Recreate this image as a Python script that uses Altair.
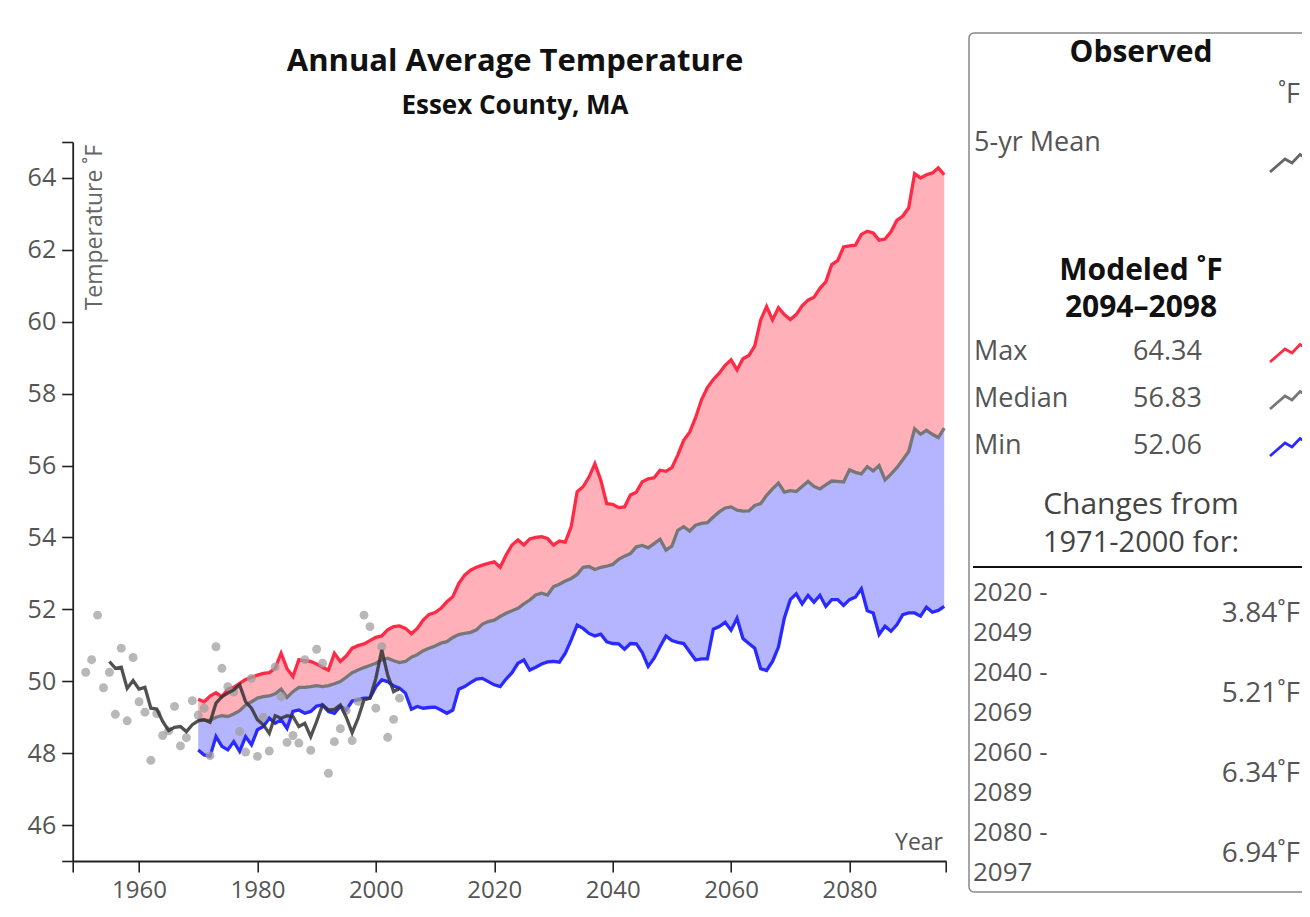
import altair as alt
import pandas as pd

# ---------------- data ----------------
obs_years = list(range(1951, 2005))
obs_temp = [50.25, 50.6, 51.84, 49.82, 50.25, 49.08, 50.92, 48.9, 50.66, 49.43,
            49.14, 47.8, 49.1, 48.49, 48.62, 49.3, 48.2, 48.43, 49.46, 49.06,
            49.25, 47.93, 50.96, 50.36, 49.85, 49.7, 48.6, 48.03, 50.08, 47.91,
            49.0, 48.06, 50.4, 49.57, 48.3, 48.49, 48.28, 50.6, 48.08, 50.89,
            50.5, 47.44, 48.32, 48.68, 49.19, 48.35, 49.44, 51.84, 51.52, 49.25,
            50.96, 48.44, 48.94, 49.53]

mean_years = list(range(1955, 2005))
mean_temp = [50.55, 50.36, 50.39, 49.80, 50.02, 49.78, 49.83, 49.25, 49.23, 48.88,
             48.63, 48.72, 48.74, 48.60, 48.79, 48.90, 48.93, 48.86, 49.39, 49.57,
             49.67, 49.76, 49.90, 49.43, 49.25, 48.93, 48.79, 48.55, 49.04, 48.97,
             49.04, 49.02, 48.74, 48.83, 48.46, 48.88, 49.34, 49.20, 49.22, 49.34,
             49.00, 48.57, 48.97, 49.48, 49.53, 50.08, 50.87, 50.17, 49.71, 49.80]

model_years = list(range(1970, 2097))
model_max = [49.5, 49.43, 49.59, 49.68, 49.57, 49.78, 49.83, 49.94, 50.05, 50.11,
             50.17, 50.22, 50.24, 50.36, 50.78, 50.35, 50.13, 50.6, 50.57, 50.55,
             50.48, 50.39, 50.31, 50.78, 50.55, 50.70, 50.92, 50.99, 51.04, 51.13,
             51.22, 51.26, 51.43, 51.52, 51.54, 51.47, 51.32, 51.47, 51.70, 51.86,
             51.91, 52.03, 52.21, 52.35, 52.72, 52.95, 53.09, 53.17, 53.23, 53.28,
             53.32, 53.17, 53.51, 53.79, 53.93, 53.79, 53.96, 54.0, 54.02, 53.97,
             53.79, 53.9, 53.87, 54.3, 55.27, 55.41, 55.68, 56.05, 55.59, 54.94,
             54.92, 54.83, 54.85, 55.18, 55.26, 55.55, 55.63, 55.66, 55.87, 55.84,
             55.94, 56.29, 56.70, 56.93, 57.33, 57.83, 58.17, 58.39, 58.57, 58.79,
             58.94, 58.66, 58.97, 59.06, 59.33, 60.05, 60.42, 60.05, 60.39, 60.2,
             60.06, 60.2, 60.44, 60.6, 60.68, 60.93, 61.11, 61.59, 61.70, 62.08,
             62.11, 62.13, 62.43, 62.52, 62.47, 62.27, 62.30, 62.5, 62.82, 62.94,
             63.17, 64.12, 64.0, 64.09, 64.14, 64.28, 64.09]
model_median = [48.94, 48.92, 48.91, 49.0, 49.04, 49.02, 49.09, 49.18, 49.34, 49.43,
                49.53, 49.57, 49.59, 49.65, 49.78, 49.55, 49.71, 49.83, 49.83, 49.85,
                49.88, 49.85, 49.88, 49.93, 49.99, 50.11, 50.24, 50.31, 50.38, 50.44,
                50.50, 50.59, 50.64, 50.57, 50.52, 50.55, 50.67, 50.74, 50.85, 50.92,
                50.98, 51.06, 51.10, 51.22, 51.30, 51.33, 51.36, 51.43, 51.59, 51.66,
                51.70, 51.80, 51.89, 51.96, 52.03, 52.15, 52.26, 52.40, 52.45, 52.40,
                52.63, 52.70, 52.79, 52.86, 52.97, 53.17, 53.19, 53.11, 53.17, 53.2,
                53.25, 53.39, 53.48, 53.55, 53.74, 53.78, 53.71, 53.83, 53.95, 53.65,
                53.76, 54.2, 54.3, 54.18, 54.34, 54.39, 54.41, 54.57, 54.71, 54.82,
                54.85, 54.76, 54.73, 54.74, 54.89, 54.94, 55.17, 55.35, 55.51, 55.26,
                55.3, 55.28, 55.42, 55.56, 55.42, 55.35, 55.46, 55.57, 55.56, 55.54,
                55.88, 55.81, 55.77, 55.97, 55.85, 56.0, 55.6, 55.76, 55.94, 56.16,
                56.39, 57.02, 56.87, 56.98, 56.87, 56.78, 57.04]
model_min = [48.09, 47.95, 47.91, 48.46, 48.19, 48.09, 48.32, 48.05, 48.46, 48.23,
             48.65, 48.74, 48.97, 48.83, 48.93, 48.69, 49.16, 49.2, 49.11, 49.16,
             49.31, 49.34, 49.16, 49.11, 49.3, 49.2, 49.45, 49.48, 49.53, 49.53,
             49.85, 50.04, 49.99, 49.87, 49.81, 49.67, 49.22, 49.3, 49.25, 49.27,
             49.28, 49.2, 49.11, 49.2, 49.78, 49.85, 49.96, 50.06, 50.08, 49.99,
             49.9, 49.85, 50.06, 50.24, 50.5, 50.59, 50.31, 50.39, 50.48, 50.54,
             50.55, 50.53, 50.78, 51.15, 51.56, 51.47, 51.33, 51.26, 51.31, 51.1,
             51.05, 51.04, 50.89, 51.05, 51.04, 50.8, 50.41, 50.64, 50.96, 51.26,
             51.13, 51.08, 51.05, 50.82, 50.59, 50.62, 50.62, 51.45, 51.52, 51.64,
             51.42, 51.75, 51.19, 51.05, 50.92, 50.35, 50.3, 50.55, 50.95, 51.76,
             52.27, 52.43, 52.15, 52.39, 52.2, 52.39, 52.08, 52.27, 52.27, 52.11,
             52.27, 52.34, 52.57, 51.96, 51.9, 51.3, 51.53, 51.39, 51.57, 51.85,
             51.9, 51.9, 51.81, 52.06, 51.92, 51.97, 52.08]

x_ticks = [1960, 1980, 2000, 2020, 2040, 2060, 2080]
y_ticks = [46, 48, 50, 52, 54, 56, 58, 60, 62, 64]

legend_names = ["Max", "Median", "Min"]
legend_values = ["64.34", "56.83", "52.06"]
legend_colors = ["#ff2a45", "#777777", "#2a2aff"]
change_periods = [("2020 -", "2049"), ("2040 -", "2069"), ("2060 -", "2089"), ("2080 -", "2097")]
change_values = ["3.84˚F", "5.21˚F", "6.34˚F", "6.94˚F"]

# ---------------- frames ----------------
obs_df = pd.DataFrame({"year": obs_years, "temp": obs_temp})
mean_df = pd.DataFrame({"year": mean_years, "temp": mean_temp})
model_df = pd.DataFrame({"year": model_years, "max": model_max,
                         "median": model_median, "min": model_min})
one = pd.DataFrame({"a": [0]})

FONT = "Open Sans"
OX, OY = 72.7, 142.0          # page position of plot origin
W, H = 873.3, 719.0
SVG_W, SVG_H = 1294, 895
X_DOM = [1948.8, 2096.3]
Y_DOM = [45, 65]

xs = alt.Scale(domain=X_DOM, nice=False, zero=False)
ys = alt.Scale(domain=Y_DOM, nice=False, zero=False)

x_axis = alt.Axis(values=[X_DOM[0]] + x_ticks + [X_DOM[1]], format="d",
                  labelExpr="datum.value % 20 === 0 ? datum.label : ''",
                  title=None, grid=False, labelFont=FONT, labelFontSize=24,
                  labelColor="#555", labelPadding=6, tickSize=11, tickWidth=1.6,
                  tickColor="#222", domainColor="#222", domainWidth=1.8,
                  labelOverlap=False, labelFlush=False)
y_axis = alt.Axis(values=[Y_DOM[0]] + y_ticks + [Y_DOM[1]],
                  labelExpr="(datum.value == 45 || datum.value == 65) ? '' : datum.label",
                  title=None, grid=False, labelFont=FONT, labelFontSize=25,
                  labelColor="#555", labelPadding=6, tickSize=11, tickWidth=1.6,
                  tickColor="#222", domainColor="#222", domainWidth=1.8,
                  labelOverlap=False, labelFlush=False)

LW = 3.3
base_m = alt.Chart(model_df)
area_hi = base_m.mark_area(color="#ffb0b8", opacity=1).encode(
    x=alt.X("year:Q", scale=xs, axis=x_axis),
    y=alt.Y("median:Q", scale=ys, axis=y_axis),
    y2="max:Q")
area_lo = base_m.mark_area(color="#b4b4ff", opacity=1).encode(
    x=alt.X("year:Q", scale=xs), y=alt.Y("min:Q", scale=ys), y2="median:Q")
line_max = base_m.mark_line(color="#ff2a45", strokeWidth=LW).encode(
    x=alt.X("year:Q", scale=xs), y=alt.Y("max:Q", scale=ys))
line_med = base_m.mark_line(color="#777777", strokeWidth=LW).encode(
    x=alt.X("year:Q", scale=xs), y=alt.Y("median:Q", scale=ys))
line_min = base_m.mark_line(color="#2a2aff", strokeWidth=LW).encode(
    x=alt.X("year:Q", scale=xs), y=alt.Y("min:Q", scale=ys))
pts = alt.Chart(obs_df).mark_circle(size=80, color="#a0a0a0", opacity=0.75).encode(
    x=alt.X("year:Q", scale=xs), y=alt.Y("temp:Q", scale=ys))
mean_line = alt.Chart(mean_df).mark_line(color="#333333", strokeWidth=LW, opacity=0.85).encode(
    x=alt.X("year:Q", scale=xs), y=alt.Y("temp:Q", scale=ys))


def T(s, px, py, size, weight="normal", align="left", color="#555", angle=None):
    kw = dict(text=s, font=FONT, fontSize=size, fontWeight=weight, align=align,
              baseline="middle", color=color)
    if angle is not None:
        kw["angle"] = angle
    return alt.Chart(one).mark_text(**kw).encode(x=alt.value(px - OX), y=alt.value(py - OY))


ZIG = "M-1,0.4 L-0.4,-0.12 L-0.12,0.04 L0.2,-0.3 L0.48,-0.14 L1,-0.5"


def icon(color, py):
    return alt.Chart(one).mark_point(shape=ZIG, filled=False, stroke=color, strokeWidth=2.8,
                                     size=2500, opacity=1).encode(
        x=alt.value(1295 - OX), y=alt.value(py - OY))


annot = [
    T("Annual Average Temperature", 515, 62, 31, "bold", "center", "#111"),
    T("Essex County, MA", 515, 106, 26, "bold", "center", "#111"),
    T("Temperature ˚F", 95, 145, 23, "normal", "right", "#666", angle=270),
    T("Year", 943, 843, 23, "normal", "right", "#555"),
]

legend = [
    alt.Chart(one).mark_rect(fill="white", stroke="#888", strokeWidth=1.5, cornerRadius=5).encode(
        x=alt.value(969 - OX), x2=alt.value(1345 - OX), y=alt.value(33 - OY), y2=alt.value(892 - OY)),
    T("Observed", 1141, 53, 30, "bold", "center", "#111"),
    T("˚F", 1300, 95, 27, "normal", "right", "#555"),
    T("5-yr Mean", 974, 143, 27, "normal", "left", "#555"),
    icon("#666666", 162),
    T("Modeled ˚F", 1141, 271, 30, "bold", "center", "#111"),
    T("2094–2098", 1141, 308, 30, "bold", "center", "#111"),
    T("Changes from", 1141, 505, 30, "normal", "center", "#444"),
    T("1971-2000 for:", 1141, 543, 29, "normal", "center", "#444"),
    alt.Chart(one).mark_rule(color="#111", strokeWidth=2).encode(
        x=alt.value(973 - OX), x2=alt.value(1345 - OX), y=alt.value(567 - OY)),
]
for i, (nm, val, col) in enumerate(zip(legend_names, legend_values, legend_colors)):
    yy = 352 + i * 47
    legend += [T(nm, 974, yy, 27, "normal", "left", "#555"),
               T(val, 1133, yy, 27, "normal", "left", "#555"),
               icon(col, yy)]
for i, ((p1, p2), cv) in enumerate(zip(change_periods, change_values)):
    yy = 593 + i * 80
    legend += [T(p1, 973, yy, 26, "normal", "left", "#555"),
               T(p2, 973, yy + 40, 26, "normal", "left", "#555"),
               T(cv, 1300, yy + 21, 28, "normal", "right", "#555")]

chart = alt.layer(area_hi, area_lo, line_max, line_med, line_min, pts, mean_line,
                  *annot, *legend).properties(
    width=W, height=H,
    autosize=alt.AutoSizeParams(type="none"),
    padding={"left": OX - 8, "top": OY - 8,
             "right": SVG_W - (OX - 8) - W, "bottom": SVG_H - (OY - 8) - H},
    background="white",
).configure_view(stroke=None)

chart.save("out.html", embed_options={"renderer": "svg", "actions": False})
